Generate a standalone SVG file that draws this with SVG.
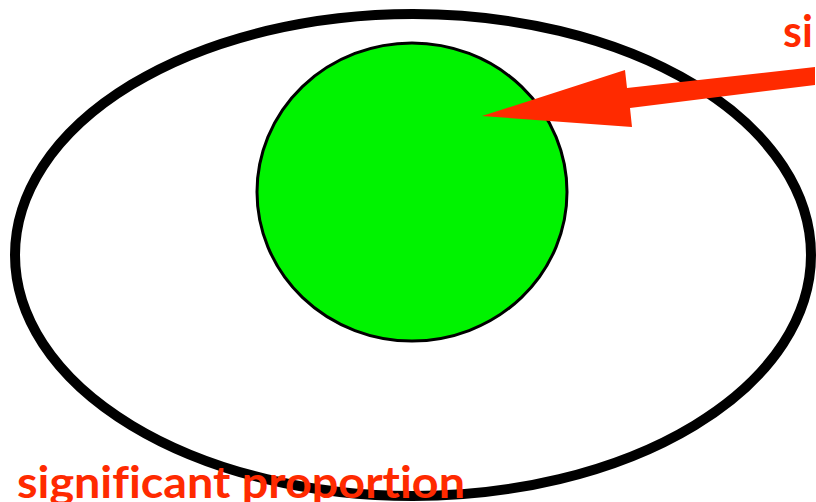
<svg xmlns="http://www.w3.org/2000/svg" width="816" height="502" viewBox="0 0 816 502">
<style>
.lbl{font-family:Lato,"Open Sans",sans-serif;font-weight:bold;font-size:43px;fill:#ff2a00;font-variant-ligatures:none}
</style>
<rect width="816" height="502" fill="#fff"/>
<g id="outer"><ellipse cx="413" cy="255" rx="398" ry="241" fill="#fff" stroke="#000" stroke-width="10"/></g>
<g id="inner"><ellipse cx="412" cy="192" rx="155" ry="149" fill="#00f300" stroke="#000" stroke-width="3"/></g>
<g id="connectors"><polygon points="815,67 815,85 630,108 632,127 482,116 625,70 627,88" fill="#ff2a00"/></g>
<g id="labels">
<text class="lbl" x="783" y="47">si</text>
<text class="lbl" x="17" y="498" textLength="448" lengthAdjust="spacingAndGlyphs">significant proportion</text>
</g>
</svg>
